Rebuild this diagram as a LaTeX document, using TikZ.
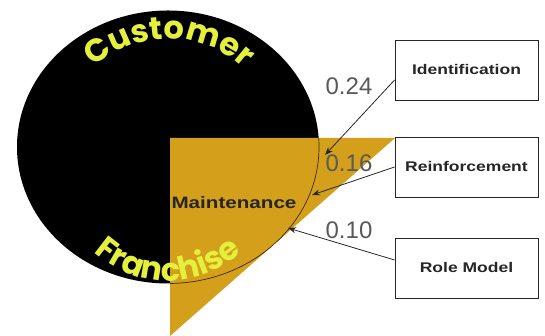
\documentclass[tikz,border=0pt]{standalone}
\usepackage{fontspec}
\setmainfont{Liberation Sans}
\newfontfamily\curvefont{Poppins}
\newfontfamily\widefont[FakeStretch=1.25]{Liberation Sans}
\usetikzlibrary{decorations.text,arrows.meta}
\definecolor{gold}{RGB}{212,160,28}
\definecolor{lemon}{RGB}{228,240,60}
\definecolor{arcline}{RGB}{60,40,10}
\tikzset{
  box/.style={draw=black!85, line width=0.9pt, fill=white, minimum width=143pt, minimum height=60pt,
    font=\widefont\bfseries\fontsize{14}{16}\selectfont, text=black!85},
  arr/.style={draw=black!85, line width=0.8pt, -{Stealth[length=8pt,width=6pt]}},
  num/.style={font=\fontsize{24}{26}\selectfont, text=black!65},
}
\begin{document}
\begin{tikzpicture}[x=1pt,y=1pt]
\useasboundingbox (0,0) rectangle (545,336);
\fill[black] (168,189) ellipse[x radius=151,y radius=136.5];
\fill[gold] (170,198) -- (395,198) -- (170,0) -- cycle;
\begin{scope}
  \clip (170,198) -- (395,198) -- (170,0) -- cycle;
  \draw[arcline, line width=0.7pt] (168,189) ellipse[x radius=151,y radius=136.5];
\end{scope}
% curved texts
\path[decorate, decoration={text along path, text align=center,
  text={|\curvefont\bfseries\fontsize{32}{32}\selectfont\color{lemon}|Customer}}]
  (168,189) ++(169.5:110 and 108) arc[start angle=169.5, end angle=9.5, x radius=110, y radius=108];
\path[decorate, decoration={text along path, text align=center,
  text={|\curvefont\bfseries\fontsize{32}{32}\selectfont\color{lemon}|Franchise}}]
  (168,189) ++(194:119 and 134) arc[start angle=194, end angle=346, x radius=119, y radius=134];
\node[font=\widefont\bfseries\fontsize{16.5}{18}\selectfont, text=black!85] (mt) at (234,133) {Maintenance};
% boxes
\node[box] (id) at (466.5,266) {Identification};
\node[box] (re) at (466.5,169) {Reinforcement};
\node[box] (rm) at (466.5,68) {Role Model};
% targets
\coordinate (tid) at (325,181);
\coordinate (tre) at (312,141);
\coordinate (trm) at (288,108);
\draw[arr] ([yshift=-10pt]id.west) -- (tid);
\draw[arr] (re.west) -- (tre);
\draw[arr] ([yshift=8pt]rm.west) -- (trm);
% labels
\node[num] (l24) at (349,250) {0.24};
\node[num] (l16) at (349,173) {0.16};
\node[num] (l10) at (349,106) {0.10};
\end{tikzpicture}
\end{document}
